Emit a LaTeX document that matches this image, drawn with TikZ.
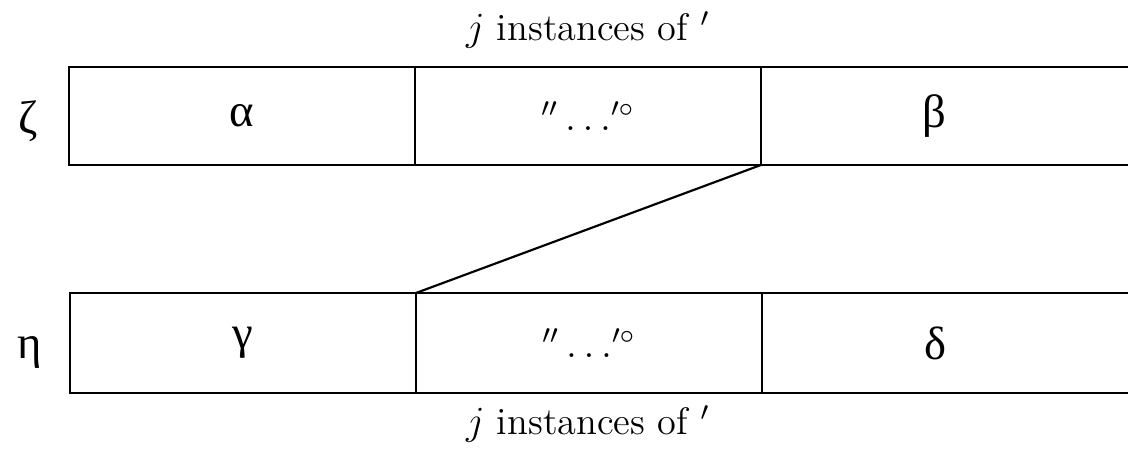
\documentclass[tikz,border=0pt]{standalone}
\usepackage{fontspec}
\usepackage{amsmath}
\newfontfamily\grkfont{Liberation Serif}
\usetikzlibrary{positioning}

\begin{document}
\begin{tikzpicture}[
    x=0.3pt, y=-0.3pt,
    font=\fontsize{11.5}{14}\selectfont,
    cell/.style={rectangle, draw, line width=0.65pt, inner sep=0pt, outer sep=0pt,
      minimum width=103.8pt, minimum height=29.4pt, font=\fontsize{14}{16}\selectfont\grkfont},
    opencell/.style={cell, draw=none},
    rowlbl/.style={font=\fontsize{14}{16}\selectfont\grkfont},
    edgeln/.style={line width=0.65pt}
  ]
  \useasboundingbox (0,0) rectangle (1128,452);
  \coordinate (rim) at (1128,0);

  % top row
  \node[cell, anchor=north west] (z1) at (69,67) {α};
  \node[cell, right=0pt of z1, font=\fontsize{12}{14}\selectfont] (z2) {$''\ldots'^{\circ}$};
  \node[opencell, right=0pt of z2] (z3) {β};
  \draw[edgeln] (z3.north west) -- (z3.north west -| rim);
  \draw[edgeln] (z3.south west) -- (z3.south west -| rim);
  \node[rowlbl] (zeta) at (28,121) {ζ};
  \node (topnote) at (588,30) {$j$ instances of $'$};

  % bottom row
  \node[cell, anchor=north west, minimum height=30pt] (h1) at (70,293) {γ};
  \node[cell, right=0pt of h1, minimum height=30pt, font=\fontsize{12}{14}\selectfont] (h2) {$''\ldots'^{\circ}$};
  \node[opencell, right=0pt of h2, minimum height=30pt] (h3) {δ};
  \draw[edgeln] (h3.north west) -- (h3.north west -| rim);
  \draw[edgeln] (h3.south west) -- (h3.south west -| rim);
  \node[rowlbl] (eta) at (30,352) {η};
  \node (botnote) at (588,424) {$j$ instances of $'$};

  \draw[edgeln] (z2.south east) -- (h1.north east);
\end{tikzpicture}
\end{document}
